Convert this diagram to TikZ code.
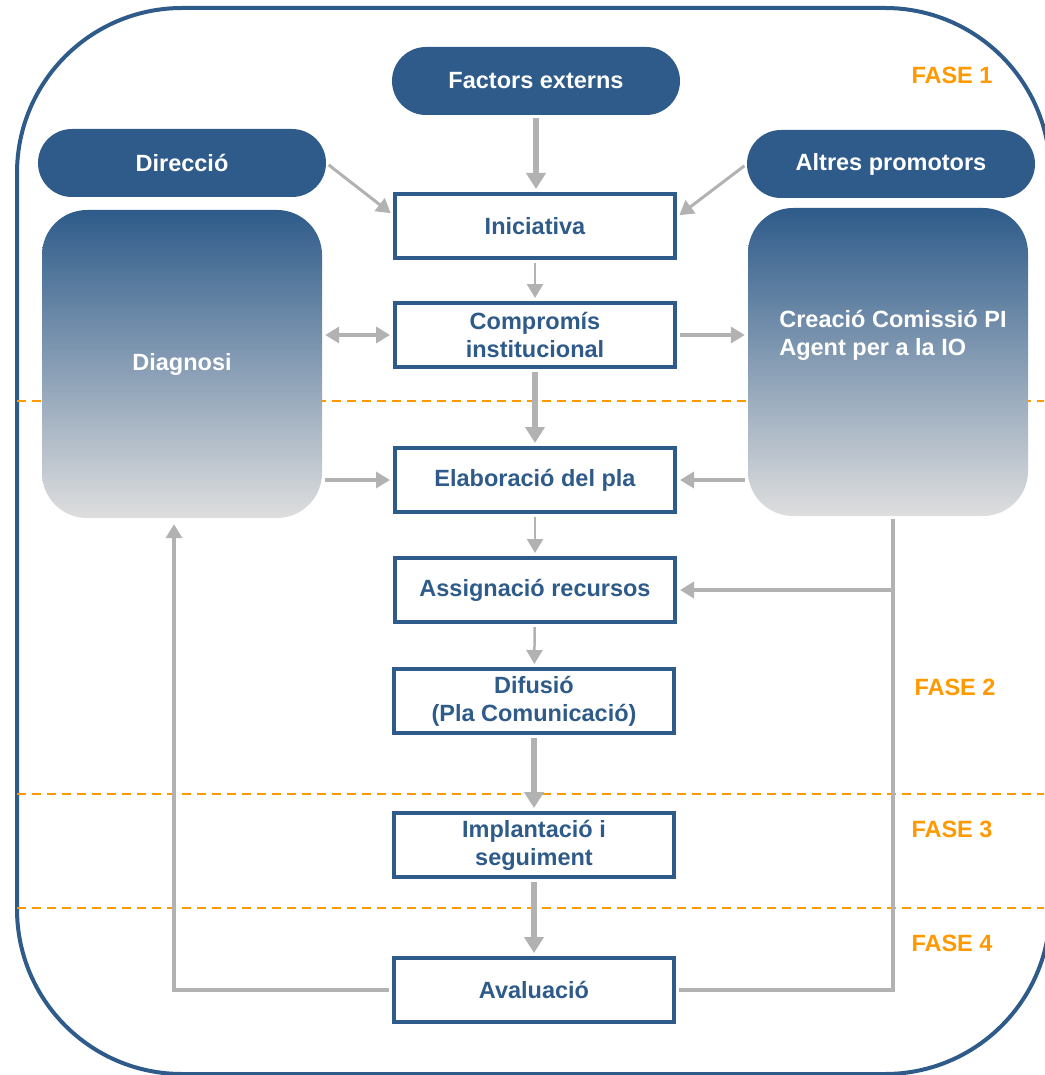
\documentclass[tikz,border=0pt]{standalone}
\usepackage{fontspec}
\setmainfont{Liberation Sans}
\usepackage{tikz}
\usetikzlibrary{arrows.meta,positioning}
\definecolor{planblue}{RGB}{46,91,138}
\definecolor{linkgray}{RGB}{178,178,178}
\definecolor{faseorange}{RGB}{255,153,0}
\definecolor{fadegray}{RGB}{222,222,222}

\begin{document}
\begin{tikzpicture}[x=1pt, y=-1pt,
    every node/.style={font=\bfseries\fontsize{23.5}{28}\selectfont, align=center},
    stepbox/.style={draw=planblue, line width=4pt, fill=white, text=planblue,
        minimum width=280pt, minimum height=64pt, inner sep=0pt},
    pill/.style={fill=planblue, text=white, rounded corners=34pt,
        minimum width=288pt, minimum height=68pt},
    fadebox/.style={rounded corners=45pt, top color=planblue, bottom color=fadegray,
        minimum width=280pt, minimum height=308pt, text=white},
    link/.style={draw=linkgray, line width=4pt, -{Triangle[length=14pt,width=16pt]},
        shorten <=3pt, shorten >=3pt},
    thinlink/.style={link, line width=2.5pt},
    thicklink/.style={link, line width=6pt, -{Triangle[length=16pt,width=19pt]}},
    phaseline/.style={draw=faseorange, line width=2pt, dash pattern=on 9pt off 6pt},
    fase/.style={text=faseorange}
]
\useasboundingbox (0,0) rectangle (1044,1075);
% outer frame and phase separators
\draw[draw=planblue, line width=4pt, rounded corners=165pt] (17,8) rectangle (1050,1074);
\draw[phaseline] (17,401) -- (1044,401);
\draw[phaseline] (17,794) -- (1044,794);
\draw[phaseline] (17,908) -- (1044,908);

% promoters
\node[pill] (fact) at (536,81) {Factors externs};
\node[pill] (dir) at (182,163) {Direcció};
\node[pill] (altr) at (891,164) {Altres promotors};

% main steps
\node[stepbox] (inic) at (535,226) {Iniciativa};
\node[stepbox] (comp) at (535,335) {Compromís\\institucional};
\node[stepbox] (elab) at (535,480) {Elaboració del pla};
\node[stepbox] (assi) at (535,590) {Assignació recursos};
\node[stepbox] (difu) at (534,701) {Difusió\\(Pla Comunicació)};
\node[stepbox] (impl) at (534,845) {Implantació i\\seguiment};
\node[stepbox] (aval) at (534,990) {Avaluació};

% side blocks
\node[fadebox] (diag) at (182,364) {Diagnosi};
\node[fadebox] (crea) at (888,362) {};
\node[text=white, align=left, anchor=west] (creatext) at ([xshift=28pt,yshift=27pt]crea.west)
    {Creació Comissió PI\\Agent per a la IO};

% phases
\node[fase] (fase1) at (952,75) {FASE 1};
\node[fase] (fase2) at (955,687) {FASE 2};
\node[fase] (fase3) at (952,829) {FASE 3};
\node[fase] (fase4) at (952,943) {FASE 4};

% connectors
\draw[thicklink] (fact.south) -- (fact.south |- inic.north);
\draw[link, line width=3pt] (dir.east) -- ([yshift=11pt]inic.west);
\draw[link, line width=3pt] (altr.west) -- ([yshift=9pt]inic.east);
\draw[thinlink] (inic) -- (comp);
\draw[link, {Triangle[length=14pt,width=16pt]}-{Triangle[length=14pt,width=16pt]}]
    (comp.west -| diag.east) -- (comp.west);
\draw[link] (comp.east) -- (comp.east -| crea.west);
\draw[thicklink] (comp) -- (elab);
\draw[link] (elab.west -| diag.east) -- (elab.west);
\draw[link] (elab.east -| crea.west) -- (elab.east);
\draw[thinlink] (elab) -- (assi);
\draw[thinlink] (assi) -- (difu);
\draw[thicklink] (difu) -- (impl);
\draw[thicklink] (impl) -- (aval);

% feedback loops
\coordinate (lturn) at (174,990);
\coordinate (rturn) at (893,990);
\draw[link, line width=3.5pt, shorten >=6pt] (aval.west) -- (lturn) -- (lturn |- diag.south);
\draw[link, line width=3.5pt, -] (aval.east) -- (rturn) -- (rturn |- crea.south);
\draw[link, shorten <=0pt] (rturn |- assi.east) -- (assi.east);
\end{tikzpicture}
\end{document}
